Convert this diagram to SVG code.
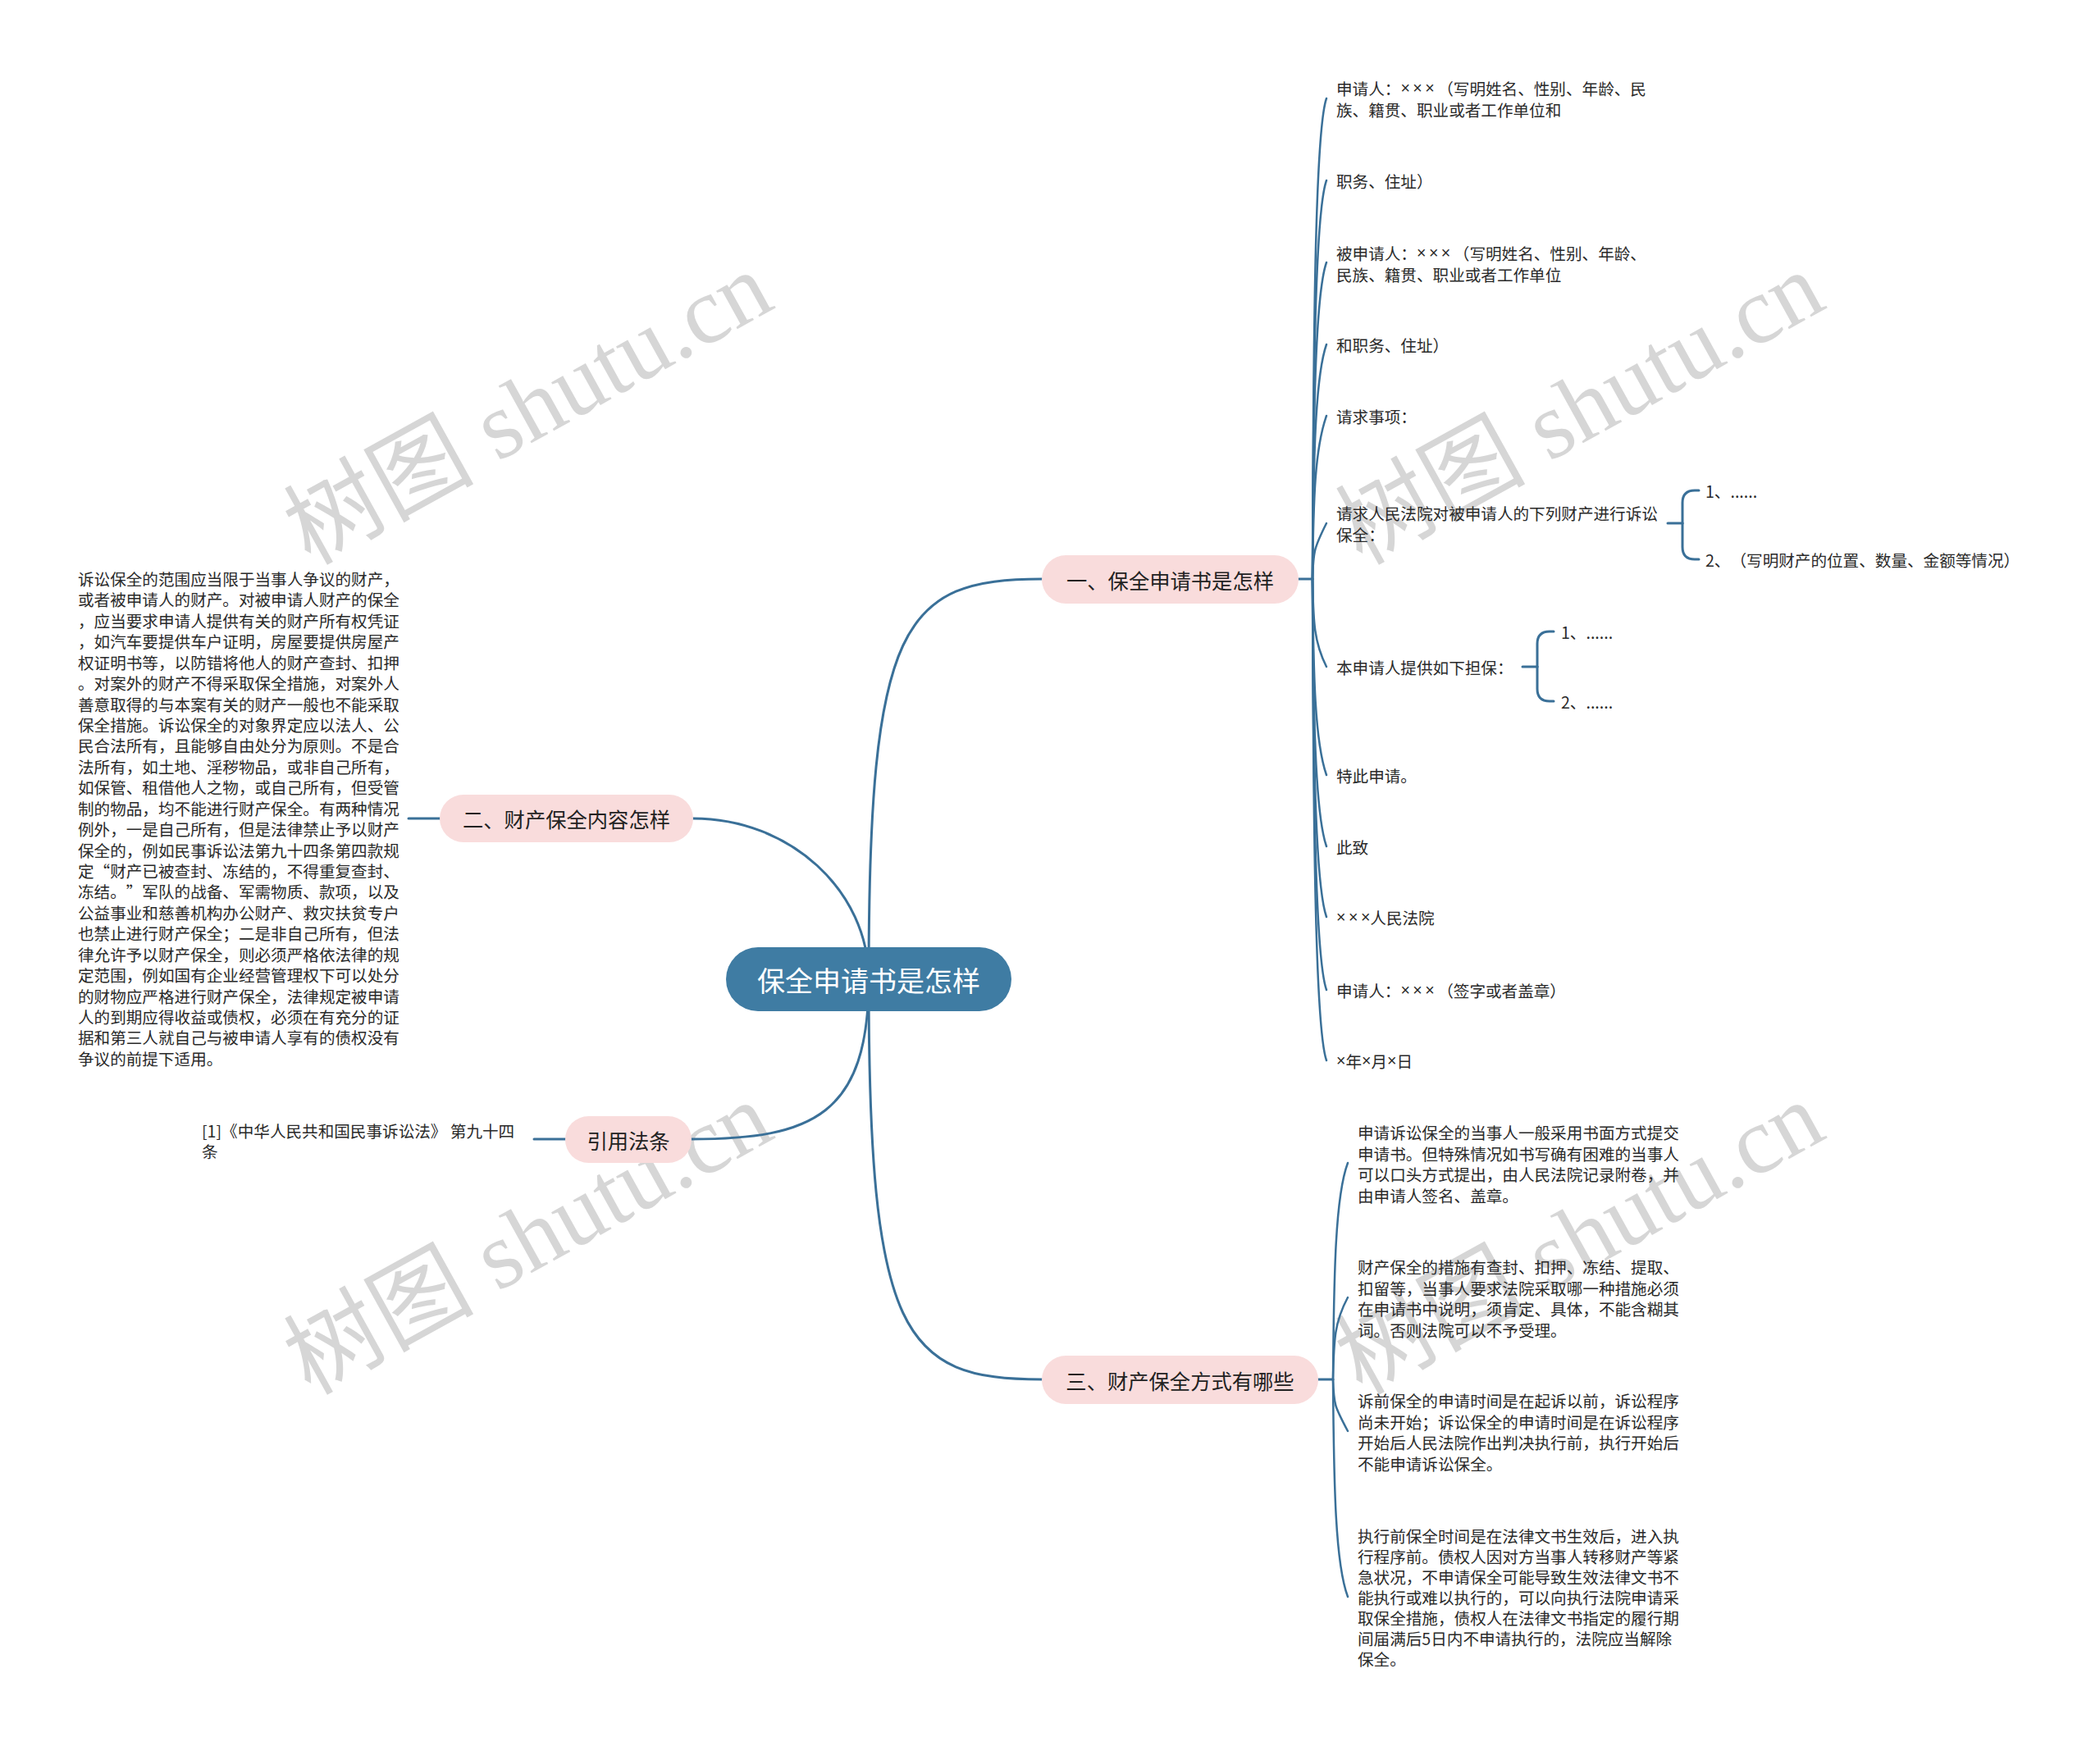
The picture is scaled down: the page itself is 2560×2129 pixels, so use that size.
<svg xmlns="http://www.w3.org/2000/svg" width="2560" height="2129" viewBox="0 0 2560 2129">
<style>
text{font-family:"Noto Sans CJK SC","Noto Sans",sans-serif;text-spacing-trim:space-all;}
.t{font-size:19.6px;fill:#2a2a2a;dominant-baseline:central;}
.x{font-family:"Liberation Sans","Noto Sans",sans-serif;letter-spacing:3.5px;}
.x1{font-family:"Liberation Sans","Noto Sans",sans-serif;}
.b{font-size:25.3px;fill:#222;dominant-baseline:central;text-anchor:middle;}
.r{font-size:34px;fill:#fff;dominant-baseline:central;text-anchor:middle;}
.wm{font-family:"Liberation Serif","Noto Sans CJK SC",serif;font-size:116px;fill:#d6d6d6;}
.c{fill:none;stroke:#3a7098;stroke-width:3;stroke-linecap:round;}
.cs{fill:none;stroke:#3a7098;stroke-width:2.5;stroke-linecap:round;}
.bn{fill:#f9dcdc;}
</style>
<rect width="2560" height="2129" fill="#fff"/>
<g id="watermarks">
<text class="wm" x="378" y="690" transform="rotate(-29 378 690)">树图 shutu.cn</text>
<text class="wm" x="1660" y="690" transform="rotate(-29 1660 690)">树图 shutu.cn</text>
<text class="wm" x="378" y="1702" transform="rotate(-29 378 1702)">树图 shutu.cn</text>
<text class="wm" x="1660" y="1702" transform="rotate(-29 1660 1702)">树图 shutu.cn</text>
</g>
<g id="connectors">
<path class="c" d="M1059 1194 C1059 760 1100 706 1270 706"/>
<path class="c" d="M1059 1194 C1059 1628 1100 1682 1270 1682"/>
<path class="c" d="M1059 1194 C1059 1086 963 998 845 998"/>
<path class="c" d="M1059 1194 C1059 1360 990 1389 843 1389"/>
<path class="c" d="M536 998 L498 998"/>
<path class="c" d="M689 1389 L651 1389"/>
<path class="c" d="M1583 706 L1600 706"/>
<path class="c" d="M1607 1682 L1625 1682"/>
<path class="cs" d="M1600 706 C1601 413 1603 160 1617 120"/>
<path class="cs" d="M1600 706 C1601 463 1603 260 1617 220"/>
<path class="cs" d="M1600 706 C1601 513 1603 360 1617 320"/>
<path class="cs" d="M1600 706 C1601 563 1603 460 1617 420"/>
<path class="cs" d="M1600 706 C1601 606 1603 547 1617 507"/>
<path class="cs" d="M1600 706 C1601 672 1602 668 1617 638"/>
<path class="cs" d="M1600 706 C1601 760 1602 783 1617 813"/>
<path class="cs" d="M1600 706 C1601 825 1603 905 1617 945"/>
<path class="cs" d="M1600 706 C1601 869 1603 992 1617 1032"/>
<path class="cs" d="M1600 706 C1601 912 1603 1078 1617 1118"/>
<path class="cs" d="M1600 706 C1601 956 1603 1167 1617 1207"/>
<path class="cs" d="M1600 706 C1601 1000 1603 1253 1617 1293"/>
<path class="cs" d="M1625 1682 C1626 1550 1628 1458 1643 1418"/>
<path class="cs" d="M1625 1682 C1626 1632 1627 1612 1643 1582"/>
<path class="cs" d="M1625 1682 C1626 1713 1627 1715 1643 1745"/>
<path class="cs" d="M1625 1682 C1626 1815 1628 1907 1643 1947"/>
<path class="c" d="M2033 638 L2051 638"/>
<path class="c" d="M2051 638 L2051 613 Q2051 598 2066 598 L2071 598"/>
<path class="c" d="M2051 638 L2051 667 Q2051 682 2066 682 L2071 682"/>
<path class="c" d="M1856 813 L1874 813"/>
<path class="c" d="M1874 813 L1874 785 Q1874 770 1889 770 L1894 770"/>
<path class="c" d="M1874 813 L1874 840 Q1874 855 1889 855 L1894 855"/>
</g>
<g id="root">
<rect x="885" y="1155" width="348" height="78" rx="39" fill="#3f7ca3"/>
<text class="r" x="1059" y="1194">保全申请书是怎样</text>
</g>
<g id="branch1">
<rect class="bn" x="1270" y="677" width="313" height="59" rx="29.5"/>
<text class="b" x="1426.5" y="706.5">一、保全申请书是怎样</text>
</g>
<g id="branch2">
<rect class="bn" x="536" y="969" width="309" height="58" rx="29"/>
<text class="b" x="690.5" y="998">二、财产保全内容怎样</text>
</g>
<g id="branch3">
<rect class="bn" x="1270" y="1653" width="337" height="59" rx="29.5"/>
<text class="b" x="1438.5" y="1682.5">三、财产保全方式有哪些</text>
</g>
<g id="branch4">
<rect class="bn" x="689" y="1361" width="154" height="57" rx="28.5"/>
<text class="b" x="766" y="1389.5">引用法条</text>
</g>
<g id="b1-items">
<text class="t" x="1629" y="107"><tspan x="1629">申请人：<tspan class="x">×××</tspan>（写明姓名、性别、年龄、民</tspan><tspan x="1629" dy="26">族、籍贯、职业或者工作单位和</tspan></text>
<text class="t" x="1629" y="220">职务、住址）</text>
<text class="t" x="1629" y="308"><tspan x="1629">被申请人：<tspan class="x">×××</tspan>（写明姓名、性别、年龄、</tspan><tspan x="1629" dy="26">民族、籍贯、职业或者工作单位</tspan></text>
<text class="t" x="1629" y="420">和职务、住址）</text>
<text class="t" x="1629" y="507">请求事项：</text>
<text class="t" x="1629" y="625"><tspan x="1629">请求人民法院对被申请人的下列财产进行诉讼</tspan><tspan x="1629" dy="26">保全：</tspan></text>
<text class="t" x="2079" y="598">1、......</text>
<text class="t" x="2079" y="682">2、（写明财产的位置、数量、金额等情况）</text>
<text class="t" x="1629" y="813">本申请人提供如下担保：</text>
<text class="t" x="1903" y="770">1、......</text>
<text class="t" x="1903" y="855">2、......</text>
<text class="t" x="1629" y="945">特此申请。</text>
<text class="t" x="1629" y="1032">此致</text>
<text class="t" x="1629" y="1118"><tspan class="x">××</tspan><tspan class="x1">×</tspan>人民法院</text>
<text class="t" x="1629" y="1207">申请人：<tspan class="x">×××</tspan>（签字或者盖章）</text>
<text class="t" x="1629" y="1293"><tspan class="x1">×</tspan>年<tspan class="x1">×</tspan>月<tspan class="x1">×</tspan>日</text>
</g>
<g id="b2-text">
<text class="t" x="95" y="705"><tspan x="95">诉讼保全的范围应当限于当事人争议的财产，</tspan><tspan x="95" dy="25.43">或者被申请人的财产。对被申请人财产的保全</tspan><tspan x="95" dy="25.43">，应当要求申请人提供有关的财产所有权凭证</tspan><tspan x="95" dy="25.43">，如汽车要提供车户证明，房屋要提供房屋产</tspan><tspan x="95" dy="25.43">权证明书等，以防错将他人的财产查封、扣押</tspan><tspan x="95" dy="25.43">。对案外的财产不得采取保全措施，对案外人</tspan><tspan x="95" dy="25.43">善意取得的与本案有关的财产一般也不能采取</tspan><tspan x="95" dy="25.43">保全措施。诉讼保全的对象界定应以法人、公</tspan><tspan x="95" dy="25.43">民合法所有，且能够自由处分为原则。不是合</tspan><tspan x="95" dy="25.43">法所有，如土地、淫秽物品，或非自己所有，</tspan><tspan x="95" dy="25.43">如保管、租借他人之物，或自己所有，但受管</tspan><tspan x="95" dy="25.43">制的物品，均不能进行财产保全。有两种情况</tspan><tspan x="95" dy="25.43">例外，一是自己所有，但是法律禁止予以财产</tspan><tspan x="95" dy="25.43">保全的，例如民事诉讼法第九十四条第四款规</tspan><tspan x="95" dy="25.43">定“财产已被查封、冻结的，不得重复查封、</tspan><tspan x="95" dy="25.43">冻结。”军队的战备、军需物质、款项，以及</tspan><tspan x="95" dy="25.43">公益事业和慈善机构办公财产、救灾扶贫专户</tspan><tspan x="95" dy="25.43">也禁止进行财产保全；二是非自己所有，但法</tspan><tspan x="95" dy="25.43">律允许予以财产保全，则必须严格依法律的规</tspan><tspan x="95" dy="25.43">定范围，例如国有企业经营管理权下可以处分</tspan><tspan x="95" dy="25.43">的财物应严格进行财产保全，法律规定被申请</tspan><tspan x="95" dy="25.43">人的到期应得收益或债权，必须在有充分的证</tspan><tspan x="95" dy="25.43">据和第三人就自己与被申请人享有的债权没有</tspan><tspan x="95" dy="25.43">争议的前提下适用。</tspan></text>
</g>
<g id="b4-text">
<text class="t" x="246" y="1378"><tspan x="246">[1]《中华人民共和国民事诉讼法》 第九十四</tspan><tspan x="246" dy="25">条</tspan></text>
</g>
<g id="b3-items">
<text class="t" x="1655" y="1380"><tspan x="1655">申请诉讼保全的当事人一般采用书面方式提交</tspan><tspan x="1655" dy="25.5">申请书。但特殊情况如书写确有困难的当事人</tspan><tspan x="1655" dy="25.5">可以口头方式提出，由人民法院记录附卷，并</tspan><tspan x="1655" dy="25.5">由申请人签名、盖章。</tspan></text>
<text class="t" x="1655" y="1544"><tspan x="1655">财产保全的措施有查封、扣押、冻结、提取、</tspan><tspan x="1655" dy="25.5">扣留等，当事人要求法院采取哪一种措施必须</tspan><tspan x="1655" dy="25.5">在申请书中说明，须肯定、具体，不能含糊其</tspan><tspan x="1655" dy="25.5">词。否则法院可以不予受理。</tspan></text>
<text class="t" x="1655" y="1707"><tspan x="1655">诉前保全的申请时间是在起诉以前，诉讼程序</tspan><tspan x="1655" dy="25.5">尚未开始；诉讼保全的申请时间是在诉讼程序</tspan><tspan x="1655" dy="25.5">开始后人民法院作出判决执行前，执行开始后</tspan><tspan x="1655" dy="25.5">不能申请诉讼保全。</tspan></text>
<text class="t" x="1655" y="1872"><tspan x="1655">执行前保全时间是在法律文书生效后，进入执</tspan><tspan x="1655" dy="25">行程序前。债权人因对方当事人转移财产等紧</tspan><tspan x="1655" dy="25">急状况，不申请保全可能导致生效法律文书不</tspan><tspan x="1655" dy="25">能执行或难以执行的，可以向执行法院申请采</tspan><tspan x="1655" dy="25">取保全措施，债权人在法律文书指定的履行期</tspan><tspan x="1655" dy="25">间届满后5日内不申请执行的，法院应当解除</tspan><tspan x="1655" dy="25">保全。</tspan></text>
</g>
</svg>
